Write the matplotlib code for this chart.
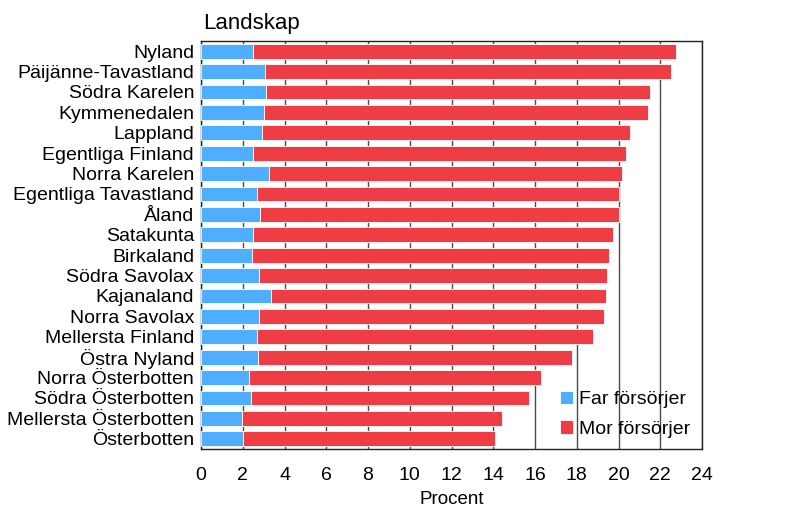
import matplotlib
matplotlib.use("Agg")
import matplotlib.pyplot as plt
import numpy as np

plt.rcParams["font.family"] = ["Liberation Sans", "DejaVu Sans"]

# Landskap, sorted as in the chart (top to bottom)
landskap = [
    "Nyland", "Päijänne-Tavastland", "Södra Karelen", "Kymmenedalen",
    "Lappland", "Egentliga Finland", "Norra Karelen", "Egentliga Tavastland",
    "Åland", "Satakunta", "Birkaland", "Södra Savolax", "Kajanaland",
    "Norra Savolax", "Mellersta Finland", "Östra Nyland", "Norra Österbotten",
    "Södra Österbotten", "Mellersta Österbotten", "Österbotten",
]
# percent
far = [2.5, 3.05, 3.1, 3.0, 2.9, 2.5, 3.25, 2.7, 2.85, 2.5,
       2.45, 2.8, 3.35, 2.8, 2.7, 2.75, 2.3, 2.4, 1.95, 2.0]
total = [22.75, 22.5, 21.5, 21.4, 20.55, 20.35, 20.15, 20.0, 20.0, 19.75,
         19.55, 19.45, 19.4, 19.3, 18.8, 17.75, 16.3, 15.7, 14.4, 14.1]
mor = [t - f for t, f in zip(total, far)]

xticks = list(range(0, 25, 2))

BLUE = "#4FAEFF"
RED = "#EF3D45"

fig = plt.figure(figsize=(8.08, 5.09), dpi=100)
ax = fig.add_axes([201 / 808, 1 - 449 / 509, 501 / 808, 408 / 509])

y = np.arange(len(landskap))
ax.barh(y, far, height=0.72, color=BLUE, edgecolor="white", linewidth=0.6,
        label="Far försörjer", zorder=3)
ax.barh(y, mor, left=far, height=0.72, color=RED, edgecolor="white",
        linewidth=0.6, label="Mor försörjer", zorder=3)

ax.set_ylim(len(landskap) - 0.5, -0.5)
ax.set_xlim(0, 24)
ax.set_xticks(xticks)
ax.set_xticklabels([str(t) for t in xticks], fontsize=14)
ax.set_yticks(y)
ax.set_yticklabels(landskap, fontsize=14)
ax.tick_params(axis="x", length=0, pad=13)
ax.tick_params(axis="y", length=0, pad=5)

ax.grid(axis="x", color="#4a4a4a", linewidth=1.0, zorder=1)
ax.set_axisbelow(True)
for s in ax.spines.values():
    s.set_color("#222222")
    s.set_linewidth(1.0)

ax.set_xlabel("Procent", fontsize=13.5, labelpad=5)
fig.text(203 / 808, 1 - 23 / 509, "Landskap", fontsize=16, va="center",
         ha="left")

leg = ax.legend(loc="lower left", bbox_to_anchor=(0.716, 0.028), frameon=False,
                fontsize=14, handlelength=0.7, handleheight=0.7,
                handletextpad=0.3, labelspacing=0.6, borderpad=0,
                borderaxespad=0)

fig.savefig("out.png", dpi=100)
